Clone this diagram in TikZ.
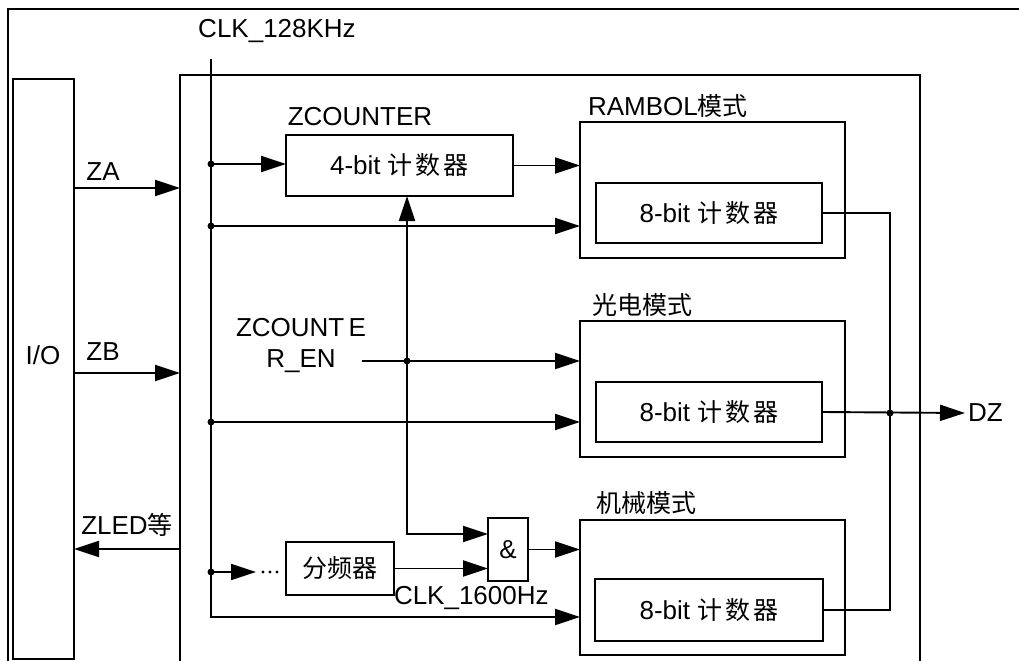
\documentclass[tikz,border=0pt]{standalone}
\usepackage{fontspec}
\setmainfont{Liberation Sans}
\newfontfamily\cjk{Noto Sans CJK SC}
\usetikzlibrary{arrows.meta}
\newcommand{\zh}[1]{{\fontsize{25bp}{30bp}\cjk #1}}
\newcommand{\jsq}{{\fontsize{25bp}{30bp}\cjk 计\hspace{3bp}数\hspace{3bp}器}}
\begin{document}
\begin{tikzpicture}[x=1bp,y=-1bp,line width=1.9bp,
  box/.style={draw,rectangle,inner sep=0,outer sep=0,anchor=north west,font=\fontsize{26bp}{30bp}\selectfont},
  lbl/.style={inner sep=0,outer sep=0,font=\fontsize{26bp}{31bp}\selectfont},
  arr/.style={-{Triangle[length=25bp,width=16bp]}},
  dot/.style={circle,fill,inner sep=0,outer sep=0,minimum size=7bp}]
\useasboundingbox (0,0) rectangle (1019,661);
\fill[white] (0,0) rectangle (1019,661);
\clip (0,0) rectangle (1019,661);
% outer frame (cropped)
\draw[line width=2.8bp] (8,9) rectangle (1060,720);
% boxes
\node[box,minimum width=61bp,minimum height=580bp] (io) at (13,79) {};
\node[lbl] (iot) at (43,355) {I/O};
\node[box,minimum width=740bp,minimum height=660bp] (big) at (180,75) {};
\node[box,minimum width=227bp,minimum height=61bp] (zc) at (286,135) {4-bit \jsq};
\node[lbl] (zcl) at (360,117) {ZCOUNTER};
\node[box,minimum width=265bp,minimum height=136bp] (ram) at (580,122) {};
\node[lbl,anchor=west] (raml) at (588,106) {RAMBOL\zh{模式}};
\node[box,minimum width=226bp,minimum height=60bp] (ram8) at (596,183) {8-bit \jsq};
\node[box,minimum width=265bp,minimum height=136bp] (gd) at (580,321) {};
\node[lbl,anchor=west] (gdl) at (592,305) {\zh{光电模式}};
\node[box,minimum width=226bp,minimum height=60bp] (gd8) at (596,382) {8-bit \jsq};
\node[box,minimum width=265bp,minimum height=135bp] (jx) at (580,520) {};
\node[lbl,anchor=west] (jxl) at (596,503) {\zh{机械模式}};
\node[box,minimum width=228bp,minimum height=62bp] (jx8) at (595,579) {8-bit \jsq};
\node[box,minimum width=108bp,minimum height=53bp] (fp) at (286,542) {\zh{分频器}};
\node[box,minimum width=40bp,minimum height=63bp] (and) at (488,518) {\&};
% labels
\node[lbl] (clk) at (277,31) {CLK\_128KHz};
\node[lbl] (za) at (103,172) {ZA};
\node[lbl] (zb) at (103,352) {ZB};
\node[lbl] (zled) at (127,525) {ZLED\zh{等}};
\node[lbl,align=center] (enl) at (301,346) {ZCOUNT\,E\\R\_EN};
\node[lbl,anchor=west] (c16) at (394,598) {CLK\_1600Hz};
\node[lbl,anchor=west,inner sep=3bp] (dz) at (965,413) {DZ};
% coordinates
\coordinate (ctop) at (211,59);
\coordinate (cbot) at (211,617);
\coordinate (pza) at (0,188);
\coordinate (pzb) at (0,373);
\coordinate (pzl) at (0,549);
\coordinate (en0) at (362,361);
\coordinate (vb) at (407,534);
\coordinate (d4e) at (256,572);
\coordinate (ox) at (890,0);
% dots
\node[dot] (d1) at (211,164) {};
\node[dot] (d2) at (211,226) {};
\node[dot] (d3) at (211,422) {};
\node[dot] (d4) at (211,572) {};
\node[dot] (den) at (407,361) {};
\node[dot] (dout) at (890,413) {};
% connectors
\draw[arr] (ctop) -- (cbot) -- (jx.west |- cbot);
\draw[arr] (io.east |- pza) -- (big.west |- pza);
\draw[arr] (io.east |- pzb) -- (big.west |- pzb);
\draw[arr] (big.west |- pzl) -- (io.east |- pzl);
\draw[arr] (d1.center) -- (zc.west |- d1);
\draw[arr] (zc.east) -- (ram.west |- zc.east);
\draw[arr] (d2.center) -- (ram.west |- d2);
\draw[arr] (en0) -- (gd.west |- en0);
\draw[arr] (d3.center) -- (gd.west |- d3);
\draw[{Triangle[length=25bp,width=16bp]}-{Triangle[length=25bp,width=16bp]}] (zc.south -| vb) -- (vb) -- (and.west |- vb);
\draw[arr] (d4.center) -- (d4e);
\fill (263,572) circle (1.7bp) (270,572) circle (1.7bp) (277,572) circle (1.7bp);
\draw[arr] (fp.east) -- (and.west |- fp.east);
\draw[arr] (and.east) -- (jx.west |- and.east);
\draw (ram8.east) -- (ram8.east -| ox) -- (jx8.east -| ox) -- (jx8.east);
\draw[arr] (gd8.east) -- (dz.west);
\end{tikzpicture}
\end{document}
